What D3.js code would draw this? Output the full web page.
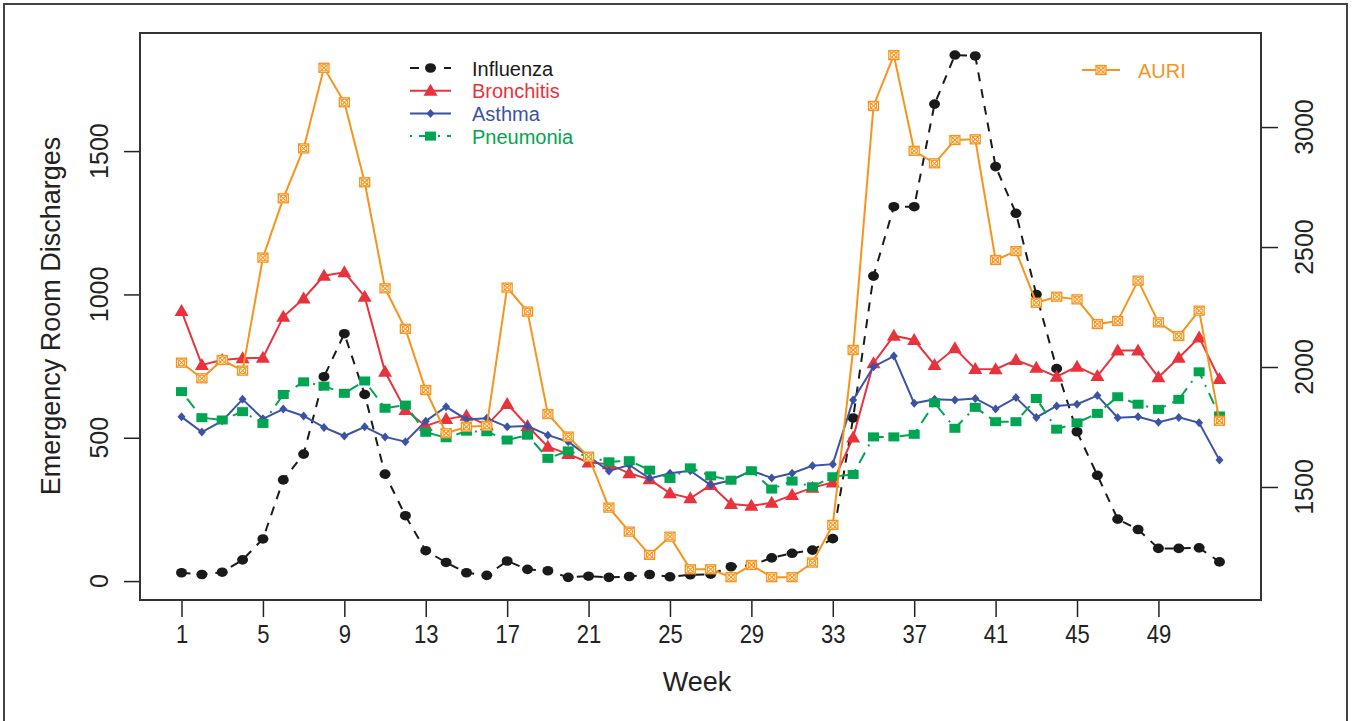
<!DOCTYPE html>
<html>
<head>
<meta charset="utf-8">
<script src="https://cdn.jsdelivr.net/npm/d3@7"></script>
<style>
  body { margin: 0; background: #fff; }
  text { font-family: "Liberation Sans", Arial, Helvetica, sans-serif; }
</style>
</head>
<body>
<svg id="chart" width="1355" height="721"></svg>
<script>
const weeks = d3.range(1, 53);
const xTicks = [1, 5, 9, 13, 17, 21, 25, 29, 33, 37, 41, 45, 49];
const leftTicks = [0, 500, 1000, 1500];
const rightTicks = [1500, 2000, 2500, 3000];

const influenza = [29, 23, 31, 74, 147, 353, 443, 713, 863, 651, 373, 228, 106, 65, 29, 20, 70, 41,
  36, 13, 17, 13, 16, 23, 15, 22, 24, 50, 55, 81, 97, 108, 148, 569, 1064, 1306, 1306, 1664, 1835, 1832,
  1446, 1283, 1000, 741, 521, 369, 216, 180, 114, 114, 116, 67];
const bronchitis = [942, 754, 771, 777, 779, 922, 986, 1065, 1077, 992, 730, 597, 541, 565, 577, 544, 618, 541,
  469, 443, 414, 408, 376, 355, 306, 289, 335, 269, 263, 273, 300, 326, 344, 501, 760, 856, 841, 754, 812, 740,
  739, 771, 744, 713, 748, 715, 804, 804, 711, 779, 850, 705];
const asthma = [573, 520, 559, 634, 566, 600, 576, 536, 506, 538, 503, 486, 558, 608, 564, 568, 538, 541,
  509, 486, 434, 384, 405, 358, 376, 385, 335, 352, 385, 360, 376, 402, 408, 632, 748, 785, 620, 634, 632, 637,
  600, 640, 571, 611, 617, 647, 570, 573, 554, 571, 552, 422];
const pneumonia = [661, 570, 562, 591, 550, 651, 695, 680, 655, 698, 603, 614, 519, 500, 523, 521, 492, 509,
  428, 454, 434, 416, 420, 387, 358, 395, 367, 352, 385, 321, 349, 329, 364, 372, 503, 503, 512, 622, 533, 606,
  556, 556, 637, 530, 552, 585, 643, 617, 599, 634, 730, 576];
const auri = [2018, 1953, 2029, 1985, 2456, 2703, 2911, 3247, 3103, 2770, 2328, 2159, 1904, 1724, 1751, 1755, 2331, 2231,
  1804, 1710, 1626, 1414, 1314, 1217, 1293, 1157, 1157, 1124, 1175, 1124, 1124, 1185, 1342, 2071, 3088, 3300, 2901, 2849, 2946, 2949,
  2446, 2483, 2268, 2293, 2282, 2179, 2192, 2360, 2186, 2129, 2235, 1776];

const svg = d3.select("#chart");

// outer frame
svg.append("rect")
    .attr("x", 4).attr("y", 4)
    .attr("width", 1343).attr("height", 740)
    .attr("fill", "none")
    .attr("stroke", "#444")
    .attr("stroke-width", 2);

const x = d3.scaleLinear().domain([-1.04, 54.04]).range([140, 1261]);
const yLeft = d3.scaleLinear().domain([-66, 1912]).range([600, 33]);
const yRight = d3.scaleLinear().domain([1029, 3392]).range([600, 33]);

// axes
svg.append("g")
    .attr("transform", "translate(0,600)")
    .call(d3.axisBottom(x).tickValues(xTicks).tickSize(17).tickPadding(8))
    .call(g => g.select(".domain").remove())
    .call(g => g.selectAll("line").attr("stroke", "#222").attr("stroke-width", 1.5))
    .call(g => g.selectAll("text").style("font-size", "25px").attr("fill", "#222")
        .attr("transform", "scale(0.88,1)").attr("x", d => (x(d) - x(d) / 0.88) * 0));

svg.append("g")
    .attr("transform", "translate(140,0)")
    .call(d3.axisLeft(yLeft).tickValues(leftTicks).tickSize(16).tickPadding(0))
    .call(g => g.select(".domain").remove())
    .call(g => g.selectAll("line").attr("stroke", "#222").attr("stroke-width", 1.5))
    .call(g => g.selectAll("text").remove());

leftTicks.forEach(function(t) {
  svg.append("text")
      .text(t)
      .attr("text-anchor", "middle")
      .style("font-size", "25px")
      .attr("fill", "#222")
      .attr("transform", "translate(108," + yLeft(t) + ") rotate(-90)");
});

svg.append("g")
    .attr("transform", "translate(1261,0)")
    .call(d3.axisRight(yRight).tickValues(rightTicks).tickSize(17))
    .call(g => g.select(".domain").remove())
    .call(g => g.selectAll("line").attr("stroke", "#222").attr("stroke-width", 1.5))
    .call(g => g.selectAll("text").remove());

rightTicks.forEach(function(t) {
  svg.append("text")
      .text(t)
      .attr("text-anchor", "middle")
      .style("font-size", "25px")
      .attr("fill", "#222")
      .attr("transform", "translate(1313," + yRight(t) + ") rotate(-90)");
});

// box
svg.append("rect")
    .attr("x", 140).attr("y", 33)
    .attr("width", 1121).attr("height", 567)
    .attr("fill", "none")
    .attr("stroke", "#333")
    .attr("stroke-width", 2);

// titles
svg.append("text")
    .text("Week")
    .attr("text-anchor", "middle")
    .style("font-size", "27px")
    .attr("fill", "#222")
    .attr("transform", "translate(697,691)");

svg.append("text")
    .text("Emergency Room Discharges")
    .attr("text-anchor", "middle")
    .style("font-size", "27px")
    .attr("fill", "#222")
    .attr("transform", "translate(60,316) rotate(-90)");

// series
const series = [
  {name: "Influenza", values: influenza, y: yLeft, color: "#1a1a1a", dash: "9,8", shape: "circle"},
  {name: "Bronchitis", values: bronchitis, y: yLeft, color: "#e8333d", dash: null, shape: "triangle"},
  {name: "Asthma", values: asthma, y: yLeft, color: "#3b53a5", dash: null, shape: "diamond"},
  {name: "Pneumonia", values: pneumonia, y: yLeft, color: "#00a551", dash: "2,7,12,7", shape: "square"},
  {name: "AURI", values: auri, y: yRight, color: "#f7941d", dash: null, shape: "boxx"}
];

function drawMarker(g, shape, cx, cy, color) {
  if (shape === "circle") {
    g.append("ellipse").attr("cx", cx).attr("cy", cy).attr("rx", 5.5).attr("ry", 4.8).attr("fill", color);
  } else if (shape === "triangle") {
    g.append("path").attr("d", "M" + cx + "," + (cy - 7) + "L" + (cx + 7) + "," + (cy + 5) + "L" + (cx - 7) + "," + (cy + 5) + "Z")
        .attr("fill", color);
  } else if (shape === "diamond") {
    g.append("path").attr("d", "M" + cx + "," + (cy - 4.5) + "L" + (cx + 4) + "," + cy + "L" + cx + "," + (cy + 4.5) + "L" + (cx - 4) + "," + cy + "Z")
        .attr("fill", color);
  } else if (shape === "square") {
    g.append("rect").attr("x", cx - 5.5).attr("y", cy - 4.5).attr("width", 11).attr("height", 9).attr("fill", color);
  } else {
    g.append("rect").attr("x", cx - 5).attr("y", cy - 4.5).attr("width", 10).attr("height", 9)
        .attr("fill", "#fff").attr("stroke", color).attr("stroke-width", 1.3);
    g.append("path").attr("d", "M" + (cx - 5) + "," + (cy - 4.5) + "L" + (cx + 5) + "," + (cy + 4.5) + "M" + (cx + 5) + "," + (cy - 4.5) + "L" + (cx - 5) + "," + (cy + 4.5))
        .attr("stroke", color).attr("stroke-width", 1.1);
    g.append("circle").attr("cx", cx).attr("cy", cy).attr("r", 3.2)
        .attr("fill", "none").attr("stroke", color).attr("stroke-width", 1.1);
  }
}

series.forEach(function(s) {
  const line = d3.line()
      .x((d, i) => x(weeks[i]))
      .y(d => s.y(d));
  svg.append("path")
      .datum(s.values)
      .attr("d", line)
      .attr("fill", "none")
      .attr("stroke", s.color)
      .attr("stroke-width", 2)
      .attr("stroke-dasharray", s.dash);
  const g = svg.append("g");
  s.values.forEach(function(v, i) {
    drawMarker(g, s.shape, x(weeks[i]), s.y(v), s.color);
  });
});

// legends
const legendRows = series.slice(0, 4);
legendRows.forEach(function(s, i) {
  const ly = 68 + i * 22.7;
  svg.append("line")
      .attr("x1", 410).attr("x2", 451)
      .attr("y1", ly).attr("y2", ly)
      .attr("stroke", s.color)
      .attr("stroke-width", 2)
      .attr("stroke-dasharray", s.dash);
  drawMarker(svg.append("g"), s.shape, 430.5, ly, s.color);
  svg.append("text")
      .text(s.name)
      .attr("x", 472)
      .attr("y", ly + 7.5)
      .style("font-size", "20px")
      .attr("fill", s.color);
});

const aur = series[4];
svg.append("line")
    .attr("x1", 1082).attr("x2", 1120)
    .attr("y1", 70).attr("y2", 70)
    .attr("stroke", aur.color)
    .attr("stroke-width", 2);
drawMarker(svg.append("g"), aur.shape, 1101, 70, aur.color);
svg.append("text")
    .text("AURI")
    .attr("x", 1138)
    .attr("y", 77.5)
    .style("font-size", "20px")
    .attr("fill", aur.color);
</script>
</body>
</html>
